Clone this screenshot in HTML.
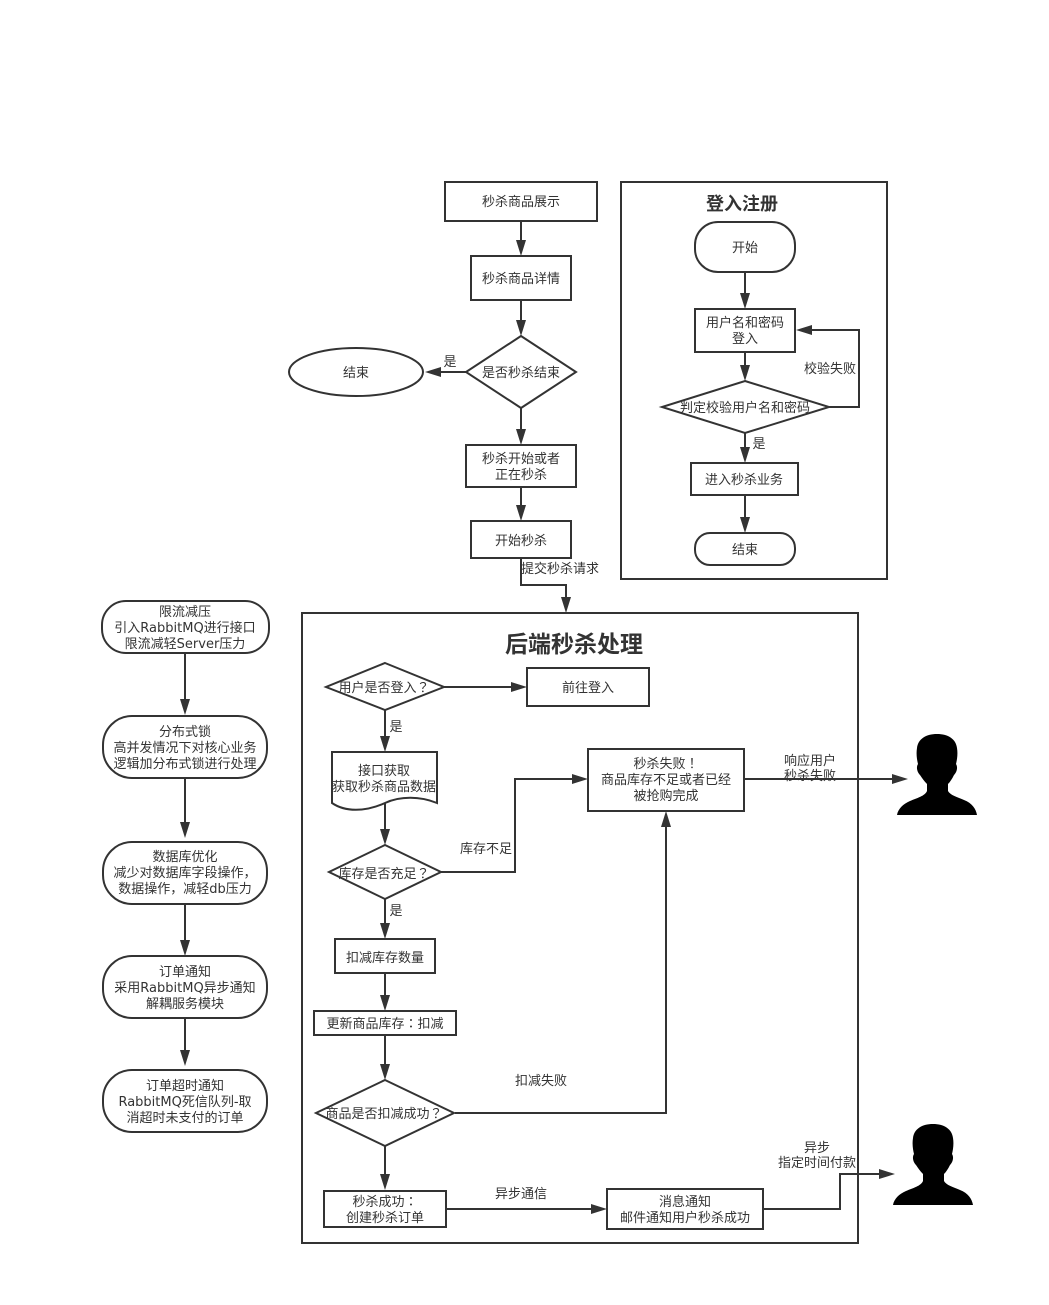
<!DOCTYPE html>
<html><head><meta charset="utf-8">
<style>
html,body{margin:0;padding:0;background:#fff;width:1049px;height:1305px;overflow:hidden}
svg{display:block}
text{font-family:"DejaVu Sans","WenQuanYi Zen Hei","Noto Sans CJK SC",sans-serif;font-size:13px;fill:#333;text-anchor:middle}
.p{font-family:"Noto Sans CJK TC",sans-serif}
.c{font-family:"Noto Sans CJK SC",sans-serif}
.s{fill:#fff;stroke:#333;stroke-width:2}
.l{fill:none;stroke:#333;stroke-width:2}
.a{fill:#333;stroke:none}
</style></head><body>
<svg width="1049" height="1305" viewBox="0 0 1049 1305" xmlns="http://www.w3.org/2000/svg">
<defs>
<path id="person" d="M40 0C51 0 59 5 60 14C61 20 60 26 59 30C61 33 60 38 57 41C55 45 53 48 51 50L51 57C53 61 60 63 67 66C75 69 79 75 80 81L0 81C1 75 6 70 13 67C20 64 28 62 30 57L30 50C27 47 25 44 23 41C20 38 19 33 21 30C20 26 19 20 20 14C21 5 29 0 40 0Z" fill="#000"/>
</defs>

<!-- containers -->
<rect class="s" x="621" y="182" width="266" height="397"/>
<rect class="s" x="302" y="613" width="556" height="630"/>

<!-- top flow connectors -->
<path class="l" d="M521 221V242M521 300V322M521 408V431M521 487V507M466 372H439M521 558V585H566V599"/>
<path class="a" d="M516 240L521 256L526 240Z M516 320L521 336L526 320Z M516 429L521 445L526 429Z M516 505L521 521L526 505Z M441 367L425 372L441 377Z M561 597L566 613L571 597Z"/>

<rect class="s" x="445" y="182" width="152" height="39"/>
<text x="521" y="206">秒杀商品展示</text>
<rect class="s" x="471" y="256" width="100" height="44"/>
<text x="521" y="283">秒杀商品详情</text>
<path class="s" d="M521 336L576 372L521 408L466 372Z"/>
<text x="521" y="377">是否秒杀结束</text>
<ellipse class="s" cx="356" cy="372" rx="67" ry="24"/>
<text x="356" y="377">结束</text>
<text x="450" y="366">是</text>
<rect class="s" x="466" y="445" width="110" height="42"/>
<text x="521" y="463">秒杀开始或者</text>
<text x="521" y="479">正在秒杀</text>
<rect class="s" x="471" y="521" width="100" height="37"/>
<text x="521" y="545">开始秒杀</text>
<text x="560" y="573">提交秒杀请求</text>

<!-- login panel -->
<text x="742" y="210" style="font-size:18px;font-weight:bold">登入注册</text>
<path class="l" d="M745 272V295M745 352V367M745 433V449M745 495V519M829 407H859V330H810"/>
<path class="a" d="M740 293L745 309L750 293Z M740 365L745 381L750 365Z M740 447L745 463L750 447Z M740 517L745 533L750 517Z M812 325L796 330L812 335Z"/>
<rect class="s" x="695" y="222" width="100" height="50" rx="23" ry="23"/>
<text x="745" y="252">开始</text>
<rect class="s" x="695" y="309" width="100" height="43"/>
<text x="745" y="327">用户名和密码</text>
<text x="745" y="343">登入</text>
<path class="s" d="M745 381L829 407L745 433L662 407Z"/>
<text x="745" y="412">判定校验用户名和密码</text>
<text x="830" y="373">校验失败</text>
<text x="759" y="448">是</text>
<rect class="s" x="691" y="463" width="107" height="32"/>
<text x="744" y="484">进入秒杀业务</text>
<rect class="s" x="695" y="533" width="100" height="32" rx="15" ry="15"/>
<text x="745" y="554">结束</text>

<!-- left column -->
<path class="l" d="M185 653V701M185 778V824M185 904V942M185 1018V1052"/>
<path class="a" d="M180 699L185 715L190 699Z M180 822L185 838L190 822Z M180 940L185 956L190 940Z M180 1050L185 1066L190 1050Z"/>
<rect class="s" x="102" y="601" width="167" height="52" rx="24" ry="24"/>
<text x="185" y="616">限流减压</text>
<text x="185" y="632">引入RabbitMQ进行接口</text>
<text x="185" y="648">限流减轻Server压力</text>
<rect class="s" x="103" y="716" width="164" height="62" rx="29" ry="29"/>
<text x="185" y="736">分布式锁</text>
<text x="185" y="752">高并发情况下对核心业务</text>
<text x="185" y="768">逻辑加分布式锁进行处理</text>
<rect class="s" x="103" y="842" width="164" height="62" rx="29" ry="29"/>
<text x="185" y="861">数据库优化</text>
<text x="185" y="877">减少对数据库字段操作<tspan class="c">，</tspan></text>
<text x="185" y="893">数据操作<tspan class="c">，</tspan>减轻db压力</text>
<rect class="s" x="103" y="956" width="164" height="62" rx="29" ry="29"/>
<text x="185" y="976">订单通知</text>
<text x="185" y="992">采用RabbitMQ异步通知</text>
<text x="185" y="1008">解耦服务模块</text>
<rect class="s" x="103" y="1070" width="164" height="62" rx="29" ry="29"/>
<text x="185" y="1090">订单超时通知</text>
<text x="185" y="1106">RabbitMQ死信队列-取</text>
<text x="185" y="1122">消超时未支付的订单</text>

<!-- backend -->
<text x="574" y="652" style="font-size:23px;font-weight:bold">后端秒杀处理</text>
<path class="l" d="M444 687H513M385 710V738M385 802V831M441 872H515V779H574M385 899V925M385 973V997M385 1035V1066M455 1113H666V825M385 1146V1176M446 1209H593M744 779H894M763 1209H840V1174H881"/>
<path class="a" d="M511 682L527 687L511 692Z M380 736L385 752L390 736Z M380 829L385 845L390 829Z M572 774L588 779L572 784Z M380 923L385 939L390 923Z M380 995L385 1011L390 995Z M380 1064L385 1080L390 1064Z M661 827L666 811L671 827Z M380 1174L385 1190L390 1174Z M591 1204L607 1209L591 1214Z M892 774L908 779L892 784Z M879 1169L895 1174L879 1179Z"/>
<path class="s" d="M385 663L444 687L385 710L326 687Z"/>
<text x="384" y="692">用户是否登入<tspan class="p">？</tspan></text>
<rect class="s" x="527" y="668" width="122" height="38"/>
<text x="588" y="692">前往登入</text>
<text x="396" y="731">是</text>
<path class="s" d="M332 752H437V803C420 796 400 796 385 803C365 812 345 812 332 803Z"/>
<text x="384" y="775">接口获取</text>
<text x="384" y="791">获取秒杀商品数据</text>
<path class="s" d="M385 845L441 872L385 899L329 872Z"/>
<text x="384" y="878">库存是否充足<tspan class="p">？</tspan></text>
<text x="486" y="853">库存不足</text>
<text x="396" y="915">是</text>
<rect class="s" x="335" y="939" width="100" height="34"/>
<text x="385" y="962">扣减库存数量</text>
<rect class="s" x="314" y="1011" width="142" height="24"/>
<text x="385" y="1028">更新商品库存<tspan class="p">：</tspan>扣减</text>
<path class="s" d="M385 1080L454 1113L385 1146L316 1113Z"/>
<text x="384" y="1118">商品是否扣减成功<tspan class="p">？</tspan></text>
<text x="541" y="1085">扣减失败</text>
<rect class="s" x="588" y="749" width="156" height="62"/>
<text x="666" y="768">秒杀失败<tspan class="p">！</tspan></text>
<text x="666" y="784">商品库存不足或者已经</text>
<text x="666" y="800">被抢购完成</text>
<text x="810" y="765">响应用户</text>
<text x="810" y="780">秒杀失败</text>
<rect class="s" x="324" y="1191" width="122" height="36"/>
<text x="385" y="1206">秒杀成功<tspan class="p">：</tspan></text>
<text x="385" y="1222">创建秒杀订单</text>
<text x="521" y="1198">异步通信</text>
<rect class="s" x="607" y="1189" width="156" height="40"/>
<text x="685" y="1206">消息通知</text>
<text x="685" y="1222">邮件通知用户秒杀成功</text>
<text x="817" y="1152">异步</text>
<text x="817" y="1167">指定时间付款</text>

<use href="#person" x="897" y="734"/>
<use href="#person" x="893" y="1124"/>
</svg>
</body></html>
